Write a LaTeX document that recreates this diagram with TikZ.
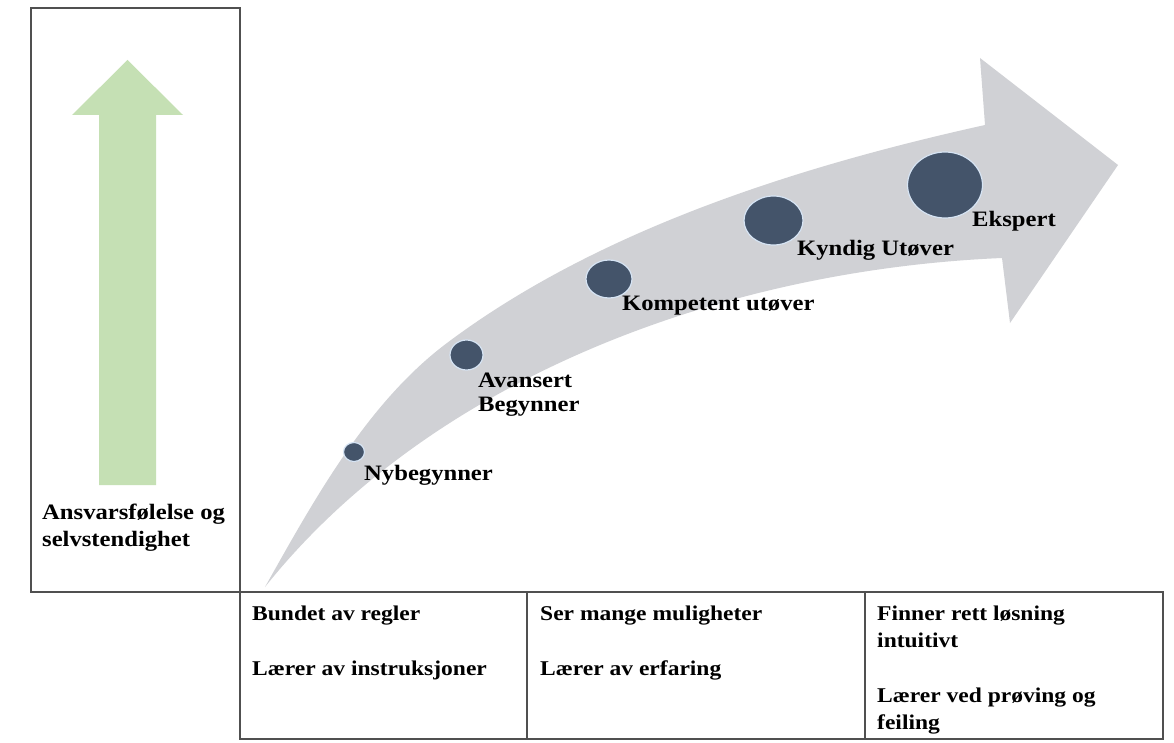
\documentclass[tikz,border=0pt]{standalone}
\usepackage{fontspec}
\setmainfont{Liberation Serif}[FakeStretch=1.12]
\usetikzlibrary{shapes.geometric}
\definecolor{bandgrey}{RGB}{208,209,213}
\definecolor{risegreen}{RGB}{197,224,180}
\definecolor{dotblue}{RGB}{68,84,106}
\definecolor{dotrim}{RGB}{214,228,244}
\definecolor{frame}{RGB}{80,80,80}
\begin{document}
\begin{tikzpicture}[x=1pt,y=-1pt,
  boxline/.style={draw=frame,line width=1.8pt},
  dot/.style={ellipse,fill=dotblue,draw=dotrim,line width=1.2pt,inner sep=0pt},
  % multi-line nodes are placed by the baseline of their last line
  lbl/.style={anchor=base west,inner sep=0pt,align=left,font=\bfseries\fontsize{22}{24}\selectfont},
  cell/.style={anchor=base west,inner sep=0pt,align=left,font=\bfseries\fontsize{21}{27}\selectfont}]
\useasboundingbox (0,0) rectangle (1174,743);
\fill[white] (0,0) rectangle (1174,743);

% rising responsibility arrow in the left panel
\fill[risegreen] (99,485) -- (99,115) -- (72,115) -- (127.5,60) -- (183,115)
  -- (156,115) -- (156,485) -- cycle;

% curved development arrow
\fill[bandgrey] (265,587) .. controls (314,500) and (367,403) .. (447,343)
  .. controls (599,229) and (800,166) .. (985,125)
  -- (980,58) -- (1118,165) -- (1010,323) -- (1002,258)
  .. controls (720,270) and (430,380) .. (265,587) -- cycle;

% left panel and bottom table
\draw[boxline] (31,8) rectangle (240,592);
\draw[boxline] (240,592) rectangle (1163,739);
\draw[boxline] (527,592) -- (527,739);
\draw[boxline] (865,592) -- (865,739);

% stages along the arrow
\node[dot,minimum width=21,minimum height=19] (d1) at (354,452) {};
\node[dot,minimum width=33,minimum height=30] (d2) at (466.5,355) {};
\node[dot,minimum width=46,minimum height=38] (d3) at (609,279) {};
\node[dot,minimum width=59,minimum height=49] (d4) at (773.5,220.5) {};
\node[dot,minimum width=75,minimum height=66] (d5) at (945,185) {};

\node[lbl] (n1) at (364,480) {Nybegynner};
\node[lbl] (n2) at (478,411) {Avansert\\Begynner};
\node[lbl] (n3) at (622,310) {Kompetent utøver};
\node[lbl] (n4) at (797,255) {Kyndig Utøver};
\node[lbl] (n5) at (972,226) {Ekspert};

\node[lbl,font=\bfseries\fontsize{22}{26.5}\selectfont] (resp) at (42,546) {Ansvarsfølelse og\\selvstendighet};

% table cells
\node[cell] (c1) at (252,675) {Bundet av regler\\[28pt]Lærer av instruksjoner};
\node[cell] (c2) at (540,675) {Ser mange muligheter\\[28pt]Lærer av erfaring};
\node[cell] (c3) at (877,729) {Finner rett løsning\\intuitivt\\[28pt]Lærer ved prøving og\\feiling};
\end{tikzpicture}
\end{document}
